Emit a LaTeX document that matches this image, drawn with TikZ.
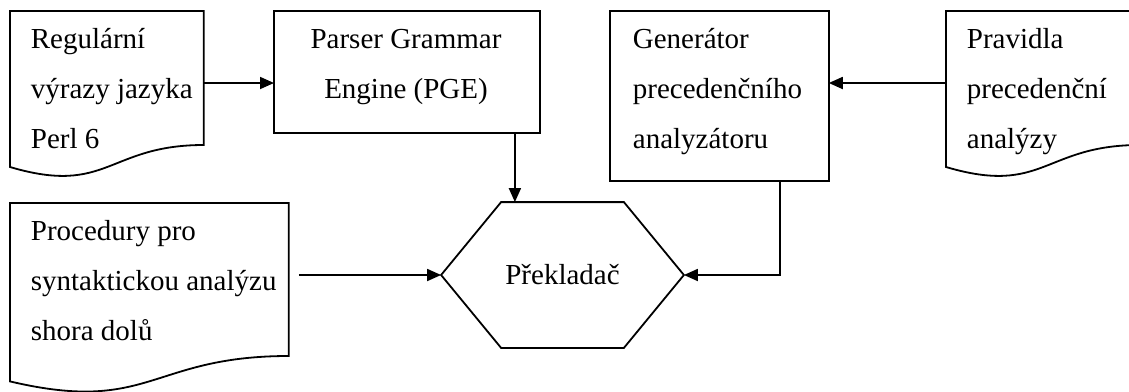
\documentclass[tikz,border=0pt]{standalone}
\usepackage{fontspec}
\setmainfont{Liberation Serif}
\usetikzlibrary{arrows.meta}
\begin{document}
\begin{tikzpicture}[x=1pt,y=-1pt,
  line width=1.8pt, line join=miter,
  shapebox/.style={draw=none, rectangle, inner sep=0pt, anchor=north west},
  outline/.style={draw=black, line width=1.8pt},
  lbl/.style={inner sep=0pt, anchor=north west, align=left, font=\fontsize{29}{50}\selectfont},
  arr/.style={-{Triangle[length=14pt,width=12pt]}, line width=1.8pt},
]
\useasboundingbox (0,0) rectangle (1129,391);
\clip (0,0) rectangle (1129,391);

% shape holders
\node[shapebox, minimum width=192pt, minimum height=167pt] (doc1) at (10,11) {};
\node[shapebox, minimum width=264pt, minimum height=120pt] (pge) at (274,11) {};
\node[shapebox, minimum width=217pt, minimum height=168pt] (gen) at (610,11) {};
\node[shapebox, minimum width=192pt, minimum height=167pt] (prav) at (946,11) {};
\node[shapebox, minimum width=277pt, minimum height=191pt] (doc3) at (10,203) {};
\node[draw=none, inner sep=0pt, minimum width=241pt, minimum height=144pt,
      font=\fontsize{29}{50}\selectfont] (prek) at (562.5,275) {Překladač};

% outlines
\draw[outline] (doc1.north west) -- (doc1.north east) -- ([yshift=-134pt]doc1.north east)
  .. controls ([xshift=-96pt,yshift=-134pt]doc1.north east) and ([xshift=-96pt,yshift=-185pt]doc1.north east)
  .. ([yshift=-156pt]doc1.north west) -- cycle;
\draw[outline] (prav.north west) -- (prav.north east) -- ([yshift=-134pt]prav.north east)
  .. controls ([xshift=-96pt,yshift=-134pt]prav.north east) and ([xshift=-96pt,yshift=-185pt]prav.north east)
  .. ([yshift=-156pt]prav.north west) -- cycle;
\draw[outline] (doc3.north west) -- (doc3.north east) -- ([yshift=-153pt]doc3.north east)
  .. controls ([xshift=-138.5pt,yshift=-153pt]doc3.north east) and ([xshift=-138.5pt,yshift=-211.5pt]doc3.north east)
  .. ([yshift=-178.4pt]doc3.north west) -- cycle;
\draw[outline] (pge.north west) rectangle (pge.south east);
\draw[outline] (gen.north west) rectangle (gen.south east);
\draw[outline] (prek.west) -- ([xshift=60pt]prek.north west) -- ([xshift=-60pt]prek.north east)
  -- (prek.east) -- ([xshift=-60pt]prek.south east) -- ([xshift=60pt]prek.south west) -- cycle;

% texts
\node[lbl] (t1) at (30,13) {\strut Regulární\\výrazy jazyka\\Perl 6};
\node[lbl, anchor=north, align=center] (t2) at (406,13) {\strut Parser Grammar\\Engine (PGE)};
\node[lbl] (t3) at (632,13) {\strut Generátor\\precedenčního\\analyzátoru};
\node[lbl] (t4) at (966,13) {\strut Pravidla\\precedenční\\analýzy};
\node[lbl] (t5) at (30,205) {\strut Procedury pro\\syntaktickou analýzu\\shora dolů};

% connectors
\coordinate (d3out) at ([xshift=10pt]doc3.east);
\coordinate (pgeout) at ([xshift=108pt]pge.south);
\coordinate (genout) at ([xshift=-49pt]gen.south east);
\draw[arr] ([yshift=-72pt]doc1.north east) -- ([yshift=-72pt]pge.north west);
\draw[arr] ([yshift=-72pt]prav.north west) -- ([yshift=-72pt]gen.north east);
\draw[arr] (pgeout) -- (pgeout |- prek.north);
\draw[arr] (genout) |- (prek.east);
\draw[arr] (d3out |- prek.west) -- (prek.west);
\end{tikzpicture}
\end{document}
